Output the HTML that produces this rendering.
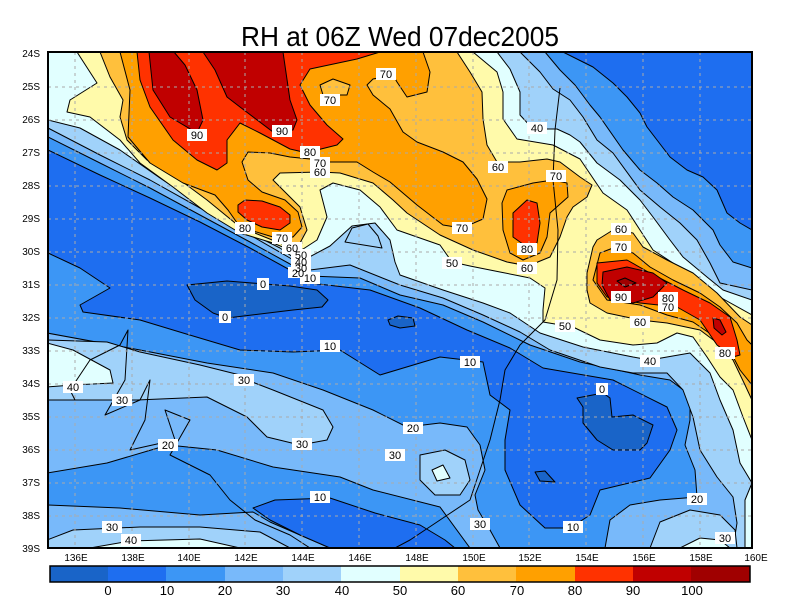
<!DOCTYPE html>
<html><head><meta charset="utf-8"><style>
html,body{margin:0;padding:0;background:#fff;}
svg{display:block;font-family:"Liberation Sans",sans-serif;}
</style></head><body>
<svg width="800" height="600" viewBox="0 0 800 600" xmlns="http://www.w3.org/2000/svg">
<defs><clipPath id="c"><rect x="48" y="52" width="704" height="496"/></clipPath></defs>
<text x="400" y="46" text-anchor="middle" font-size="28" textLength="318" lengthAdjust="spacingAndGlyphs">RH at 06Z Wed 07dec2005</text>
<g clip-path="url(#c)" stroke="#000" stroke-width="1" stroke-linejoin="round">
<rect x="48" y="52" width="704" height="496" fill="#3c96f5" stroke="none"/>
<!-- >=20 upper -->
<polygon fill="#78b9fa" points="48,52 545,52 560,70 575,85 590,105 600,117 623,150 640,170 657,183 673,197 693,210 713,230 720,245 733,262 752,268 752,548 605,548 610,520 630,505 660,500 697,497 695,470 685,445 690,420 690,395 670,380 640,375 580,362 530,345 483,322 443,305 400,295 360,278 310,276 290,264 250,242 200,215 150,188 100,163 48,137"/>
<!-- >=30 upper -->
<polygon fill="#a0d2fa" points="48,52 520,52 540,72 553,89 570,100 583,117 597,140 613,153 640,190 660,207 680,223 697,240 710,263 720,283 752,290 752,548 733,548 737,523 733,497 717,477 700,450 693,417 683,390 667,373 633,373 600,367 550,350 520,332 483,315 443,298 400,285 350,265 310,270 290,258 250,235 200,208 150,180 100,155 48,128"/>
<!-- >=40 upper -->
<polygon fill="#e1ffff" points="48,52 497,52 510,69 520,92 520,115 533,129 557,129 570,135 580,142 597,163 620,180 640,200 653,217 670,240 683,257 707,277 723,290 752,300 752,483 740,463 733,430 720,400 710,373 690,353 667,357 650,360 633,357 583,347 540,333 510,313 483,303 443,290 400,275 395,262 390,240 375,223 352,226 330,246 300,262 280,248 240,228 200,205 160,178 120,150 80,128 48,120"/>
<polygon fill="#a0d2fa" points="345,242 352,228 368,224 378,236 382,248"/>
<!-- >=50 -->
<polygon fill="#fffaaa" points="77,52 97,83 70,100 67,112 90,117 120,140 140,163 173,187 207,213 240,233 273,243 297,253 317,240 327,217 320,190 333,183 360,190 380,207 397,230 440,245 452,262 470,266 500,272 530,278 545,288 543,310 543,322 573,327 600,340 633,345 657,343 677,333 693,337 707,357 720,377 733,390 743,417 752,440 752,315 707,290 693,280 673,263 653,250 640,230 627,210 603,193 580,159 553,145 517,139 503,119 503,92 497,72 473,52"/>
<!-- >=60 -->
<polygon fill="#ffc03c" points="100,52 110,77 123,100 120,117 127,140 147,160 180,180 207,200 240,227 292,248 300,243 307,230 300,207 280,187 273,180 280,173 320,172 340,173 373,183 393,200 407,213 440,235 473,250 507,262 528,266 550,257 560,237 567,217 573,207 587,197 592,185 580,177 560,162 547,159 520,162 497,162 487,145 483,119 482,92 470,72 457,52"/>
<polygon fill="#ffc03c" points="593,247 597,240 613,230 633,233 643,247 667,260 693,273 717,293 740,317 752,325 752,400 745,385 733,360 720,345 700,330 667,323 640,320 607,313 590,303 587,290 587,273"/>
<!-- >=70 -->
<polygon fill="#ffa000" points="120,52 130,90 128,137 150,163 183,183 215,195 228,210 240,227 273,237 293,237 302,227 298,212 285,200 262,192 248,180 242,162 248,152 270,153 290,157 310,159 330,162 357,162 373,172 390,182 417,205 443,225 462,228 483,219 487,199 477,179 463,162 443,152 417,142 403,132 390,109 373,95 367,85 373,79 393,75 397,82 407,97 427,92 430,72 423,52"/>
<polygon fill="#ffc03c" points="320,85 333,79 350,85 347,95 323,95"/>
<polygon fill="#ffa000" points="502,203 507,190 533,183 553,180 567,183 568,197 550,213 547,237 540,253 523,260 510,253 503,230"/>
<polygon fill="#ffa000" points="600,253 613,248 633,253 650,267 673,280 700,293 720,307 737,323 747,340 752,345 752,385 740,370 727,345 693,322 667,315 640,305 607,300 593,280"/>
<!-- >=80 -->
<polygon fill="#ff3200" points="137,52 140,80 150,107 173,140 197,160 217,170 227,163 227,140 240,123 260,133 290,149 303,152 317,150 337,145 343,139 327,125 310,105 300,85 310,69 357,59 380,52"/>
<polygon fill="#ff3200" points="238,205 245,200 262,201 280,207 290,215 290,223 280,230 262,227 247,220 238,212"/>
<polygon fill="#ff3200" points="513,213 527,200 537,203 540,223 537,243 527,247 513,237"/>
<polygon fill="#ff3200" points="597,263 627,260 650,273 683,290 710,303 730,317 737,340 740,355 733,357 717,345 700,320 677,307 640,303 607,297 597,283"/>
<!-- >=90 -->
<polygon fill="#c00000" points="149,52 153,90 170,117 197,133 203,120 197,90 185,65 174,52"/>
<polygon fill="#c00000" points="203,52 215,70 227,97 240,107 273,132 293,130 297,120 290,100 283,52"/>
<polygon fill="#c00000" points="603,272 627,267 653,273 667,283 653,297 633,303 610,300 602,285"/>
<polygon fill="#c00000" points="713,318 720,320 726,332 722,335 714,328"/>
<polygon fill="#a00000" points="617,281 625,278 636,283 625,287"/>
<!-- lower left -->
<polygon fill="#78b9fa" points="47,333 140,350 207,363 273,373 323,390 373,410 407,427 440,423 467,427 480,445 485,470 475,495 478,510 490,530 500,548 470,548 440,507 373,490 340,477 273,467 217,450 168,445 107,463 47,473"/>
<polygon fill="#a0d2fa" points="47,340 107,342 140,352 200,365 240,375 247,380 273,390 323,410 333,427 327,440 300,445 267,437 247,417 207,397 137,400 120,400 47,400"/>
<polygon fill="#e1ffff" points="47,343 73,350 110,370 113,383 73,385 47,387"/>
<polygon fill="#a0d2fa" points="420,455 445,450 465,460 470,480 460,495 435,495 420,480"/>
<polygon fill="#e1ffff" points="432,470 443,465 450,478 437,481"/>
<polygon fill="#78b9fa" points="47,505 120,508 200,515 253,512 270,522 300,535 330,548 47,548"/>
<polygon fill="#a0d2fa" points="47,540 73,530 140,527 200,527 260,532 290,548 47,548"/>
<polygon fill="#e1ffff" points="90,548 130,541 200,539 240,548"/>
<!-- lower right -->
<polygon fill="#a0d2fa" points="650,548 660,522 690,510 720,515 735,530 737,548"/>
<polygon fill="#e1ffff" points="680,548 700,538 720,540 730,548"/>
<polygon fill="#e1ffff" points="752,483 745,500 745,548 752,548"/>
<!-- 0-10 -->
<polygon fill="#1e6ef0" points="563,52 593,67 613,83 627,97 640,113 647,127 657,140 670,157 687,170 703,177 717,190 727,213 740,223 752,230 752,52"/>
<polygon fill="#1e6ef0" points="48,150 100,175 150,198 200,222 250,248 290,270 310,283 370,290 420,308 467,330 510,348 543,368 613,380 667,407 677,430 670,450 650,478 600,490 590,515 570,528 545,528 520,505 505,470 505,440 510,410 490,395 483,362 440,357 380,375 340,350 293,352 240,350 183,333 140,320 83,312 80,305 110,288 80,268 48,253"/>
<polygon fill="#1e6ef0" points="253,508 275,500 330,498 375,513 420,525 445,540 455,548 330,548 300,535 270,520"/>
<!-- <0 -->
<polygon fill="#1964c8" points="187,285 227,281 290,286 317,290 328,300 322,307 293,310 227,318 213,313 195,300"/>
<polygon fill="#1964c8" points="388,320 398,316 413,318 415,326 400,328 390,325"/>
<polygon fill="#1964c8" points="577,398 603,393 610,398 612,417 633,415 653,425 647,443 640,450 613,450 597,440 583,423 583,407"/>
<polygon fill="#1964c8" points="535,472 545,471 555,482 540,481"/>
<!-- coast -->
<polyline fill="none" points="560,88 555,130 553,180 558,230 557,280 545,320 520,345 505,370 500,400 490,440 480,470 470,500 440,520 410,540 395,548"/>
<polyline fill="none" points="48,400 75,400 70,390 90,360 120,345 128,330 125,380 105,415 140,400 150,380 145,420 130,450 175,440 165,410 190,420 170,455 210,475 230,500 255,520 290,535 310,548"/>
</g>
<g stroke="#aaa" stroke-width="1" stroke-dasharray="3,4">
<line x1="75" y1="52" x2="75" y2="548"/><line x1="132" y1="52" x2="132" y2="548"/><line x1="189" y1="52" x2="189" y2="548"/><line x1="245" y1="52" x2="245" y2="548"/><line x1="302" y1="52" x2="302" y2="548"/><line x1="359" y1="52" x2="359" y2="548"/><line x1="416" y1="52" x2="416" y2="548"/><line x1="473" y1="52" x2="473" y2="548"/><line x1="529" y1="52" x2="529" y2="548"/><line x1="586" y1="52" x2="586" y2="548"/><line x1="643" y1="52" x2="643" y2="548"/><line x1="700" y1="52" x2="700" y2="548"/>
<line x1="48" y1="87" x2="752" y2="87"/><line x1="48" y1="120" x2="752" y2="120"/><line x1="48" y1="153" x2="752" y2="153"/><line x1="48" y1="186" x2="752" y2="186"/><line x1="48" y1="219" x2="752" y2="219"/><line x1="48" y1="252" x2="752" y2="252"/><line x1="48" y1="285" x2="752" y2="285"/><line x1="48" y1="318" x2="752" y2="318"/><line x1="48" y1="351" x2="752" y2="351"/><line x1="48" y1="384" x2="752" y2="384"/><line x1="48" y1="417" x2="752" y2="417"/><line x1="48" y1="450" x2="752" y2="450"/><line x1="48" y1="483" x2="752" y2="483"/><line x1="48" y1="516" x2="752" y2="516"/>
</g>
<rect x="48" y="52" width="704" height="496" fill="none" stroke="#000" stroke-width="2"/>
<g font-size="11" text-anchor="middle">
<g fill="#fff"><rect x="187" y="129" width="20" height="12"/><rect x="272" y="125" width="20" height="12"/><rect x="300" y="146" width="20" height="12"/><rect x="310" y="157" width="20" height="12"/><rect x="310" y="166" width="20" height="12"/><rect x="376" y="68" width="20" height="12"/><rect x="320" y="94" width="20" height="12"/><rect x="235" y="222" width="20" height="12"/><rect x="272" y="232" width="20" height="12"/><rect x="282" y="242" width="20" height="12"/><rect x="291" y="249" width="20" height="11"/><rect x="291" y="256" width="20" height="11"/><rect x="291" y="262" width="20" height="11"/><rect x="288" y="267" width="20" height="11"/><rect x="300" y="272" width="20" height="12"/><rect x="257" y="278" width="12" height="12"/><rect x="219" y="311" width="12" height="12"/><rect x="320" y="340" width="20" height="12"/><rect x="460" y="356" width="20" height="12"/><rect x="234" y="374" width="20" height="12"/><rect x="63" y="381" width="20" height="12"/><rect x="112" y="394" width="20" height="12"/><rect x="403" y="422" width="20" height="12"/><rect x="292" y="438" width="20" height="12"/><rect x="385" y="449" width="20" height="12"/><rect x="158" y="439" width="20" height="12"/><rect x="310" y="491" width="20" height="12"/><rect x="102" y="521" width="20" height="12"/><rect x="121" y="534" width="20" height="12"/><rect x="470" y="518" width="20" height="12"/><rect x="563" y="521" width="20" height="12"/><rect x="687" y="493" width="20" height="12"/><rect x="715" y="532" width="20" height="12"/><rect x="596" y="383" width="12" height="12"/><rect x="640" y="355" width="20" height="12"/><rect x="555" y="320" width="20" height="12"/><rect x="630" y="316" width="20" height="12"/><rect x="715" y="347" width="20" height="12"/><rect x="611" y="291" width="20" height="12"/><rect x="658" y="292" width="20" height="11"/><rect x="658" y="301" width="20" height="11"/><rect x="611" y="241" width="20" height="12"/><rect x="611" y="223" width="20" height="12"/><rect x="517" y="243" width="20" height="12"/><rect x="517" y="262" width="20" height="12"/><rect x="452" y="222" width="20" height="12"/><rect x="442" y="257" width="20" height="12"/><rect x="488" y="161" width="20" height="12"/><rect x="546" y="170" width="20" height="12"/><rect x="527" y="122" width="20" height="12"/></g>
<text x="197" y="139">90</text><text x="282" y="135">90</text><text x="310" y="156">80</text><text x="320" y="167">70</text><text x="320" y="176">60</text><text x="386" y="78">70</text><text x="330" y="104">70</text><text x="245" y="232">80</text><text x="282" y="242">70</text><text x="292" y="252">60</text><text x="301" y="259">50</text><text x="301" y="266">40</text><text x="301" y="272">30</text><text x="298" y="277">20</text><text x="310" y="282">10</text><text x="263" y="288">0</text><text x="225" y="321">0</text><text x="330" y="350">10</text><text x="470" y="366">10</text><text x="244" y="384">30</text><text x="73" y="391">40</text><text x="122" y="404">30</text><text x="413" y="432">20</text><text x="302" y="448">30</text><text x="395" y="459">30</text><text x="168" y="449">20</text><text x="320" y="501">10</text><text x="112" y="531">30</text><text x="131" y="544">40</text><text x="480" y="528">30</text><text x="573" y="531">10</text><text x="697" y="503">20</text><text x="725" y="542">30</text><text x="602" y="393">0</text><text x="650" y="365">40</text><text x="565" y="330">50</text><text x="640" y="326">60</text><text x="725" y="357">80</text><text x="621" y="301">90</text><text x="668" y="302">80</text><text x="668" y="311">70</text><text x="621" y="251">70</text><text x="621" y="233">60</text><text x="527" y="253">80</text><text x="527" y="272">60</text><text x="462" y="232">70</text><text x="452" y="267">50</text><text x="498" y="171">60</text><text x="556" y="180">70</text><text x="537" y="132">40</text>
</g>
<g font-size="10" text-anchor="end">
<text x="40" y="57">24S</text><text x="40" y="90">25S</text><text x="40" y="123">26S</text><text x="40" y="156">27S</text><text x="40" y="189">28S</text><text x="40" y="222">29S</text><text x="40" y="255">30S</text><text x="40" y="288">31S</text><text x="40" y="321">32S</text><text x="40" y="354">33S</text><text x="40" y="387">34S</text><text x="40" y="420">35S</text><text x="40" y="453">36S</text><text x="40" y="486">37S</text><text x="40" y="519">38S</text><text x="40" y="552">39S</text>
</g>
<g font-size="10" text-anchor="middle">
<text x="76" y="561">136E</text><text x="133" y="561">138E</text><text x="189" y="561">140E</text><text x="246" y="561">142E</text><text x="303" y="561">144E</text><text x="360" y="561">146E</text><text x="417" y="561">148E</text><text x="474" y="561">150E</text><text x="530" y="561">152E</text><text x="587" y="561">154E</text><text x="644" y="561">156E</text><text x="701" y="561">158E</text><text x="756" y="561">160E</text>
</g>
<g stroke="none">
<rect x="50" y="566" width="59" height="16" fill="#1964c8"/><rect x="108" y="566" width="59" height="16" fill="#1e6ef0"/><rect x="166" y="566" width="59" height="16" fill="#3c96f5"/><rect x="225" y="566" width="59" height="16" fill="#78b9fa"/><rect x="283" y="566" width="59" height="16" fill="#a0d2fa"/><rect x="341" y="566" width="59" height="16" fill="#e1ffff"/><rect x="400" y="566" width="59" height="16" fill="#fffaaa"/><rect x="458" y="566" width="59" height="16" fill="#ffc03c"/><rect x="516" y="566" width="59" height="16" fill="#ffa000"/><rect x="575" y="566" width="59" height="16" fill="#ff3200"/><rect x="633" y="566" width="59" height="16" fill="#c00000"/><rect x="691" y="566" width="59" height="16" fill="#a00000"/>
</g>
<rect x="50" y="566" width="700" height="16" fill="none" stroke="#000" stroke-width="1.5"/>
<g font-size="13" text-anchor="middle">
<text x="108" y="595">0</text><text x="167" y="595">10</text><text x="225" y="595">20</text><text x="283" y="595">30</text><text x="342" y="595">40</text><text x="400" y="595">50</text><text x="458" y="595">60</text><text x="517" y="595">70</text><text x="575" y="595">80</text><text x="633" y="595">90</text><text x="692" y="595">100</text>
</g>
</svg>
</body></html>
